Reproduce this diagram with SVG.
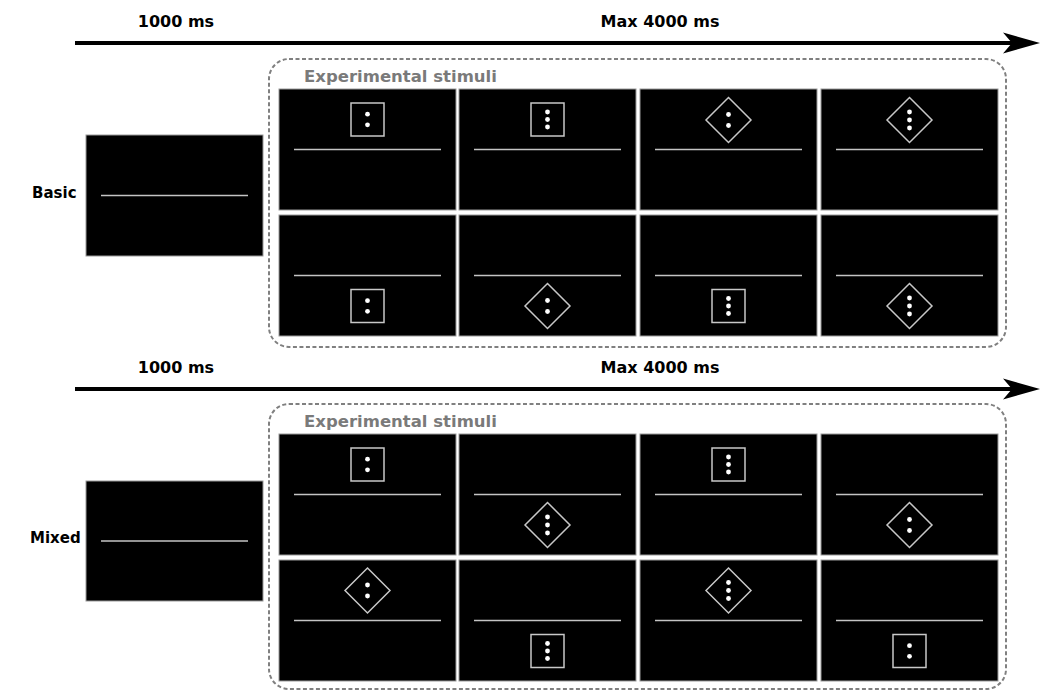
<svg xmlns="http://www.w3.org/2000/svg" xmlns:xlink="http://www.w3.org/1999/xlink" width="1043" height="691" viewBox="0 0 1043 691">
<style>
.lbl{font-family:"DejaVu Sans",Verdana,sans-serif;font-weight:bold;fill:#000;}
.time{font-size:16px;text-anchor:middle;}
.side{font-size:15px;}
.grp{font-size:16.5px;fill:#7a7a7a;}
.box{fill:none;stroke:#808080;stroke-width:2;stroke-dasharray:4 2.5;}
.scr{fill:#000;stroke:#9a9a9a;stroke-width:1;}
.ln{stroke:#c4c4c4;stroke-width:1.6;}
.shp{fill:none;stroke:#c8c8c8;stroke-width:1.5;}
.dot{fill:#fff;}
.axis{stroke:#000;stroke-width:4;}
</style>
<defs>
<g id="sq2"><rect class="shp" x="-16.5" y="-16.5" width="33" height="33"/><circle class="dot" cx="0" cy="-5.3" r="2.4"/><circle class="dot" cx="0" cy="5.3" r="2.4"/></g>
<g id="sq3"><rect class="shp" x="-16.5" y="-16.5" width="33" height="33"/><circle class="dot" cx="0" cy="-7.5" r="2.4"/><circle class="dot" cx="0" cy="0" r="2.4"/><circle class="dot" cx="0" cy="7.5" r="2.4"/></g>
<g id="di2"><polygon class="shp" points="0,-22.5 22.5,0 0,22.5 -22.5,0"/><circle class="dot" cx="0" cy="-5.5" r="2.4"/><circle class="dot" cx="0" cy="5.5" r="2.4"/></g>
<g id="di3"><polygon class="shp" points="0,-22.5 22.5,0 0,22.5 -22.5,0"/><circle class="dot" cx="0" cy="-8" r="2.4"/><circle class="dot" cx="0" cy="0" r="2.4"/><circle class="dot" cx="0" cy="8" r="2.4"/></g>
<g id="panel"><rect class="scr" x="0" y="0" width="177" height="121"/><line class="ln" x1="15" y1="60.5" x2="162" y2="60.5"/></g>
<path id="head" d="M0,0 L-37,-10.5 L-28,0 L-37,10.5 Z" fill="#000"/>
</defs>

<g id="connectors">
<line class="axis" x1="75" y1="43" x2="1012" y2="43"/>
<use xlink:href="#head" x="1040" y="43"/>
<line class="axis" x1="75" y1="389" x2="1012" y2="389"/>
<use xlink:href="#head" x="1040" y="389"/>
</g>

<g id="basic">
<text class="lbl time" x="176" y="27">1000 ms</text>
<text class="lbl time" x="660" y="27">Max 4000 ms</text>
<text class="lbl side" x="32" y="198">Basic</text>
<g id="basic-fixation">
<rect class="scr" x="86" y="135" width="177" height="121"/>
<line class="ln" x1="101" y1="195.5" x2="248" y2="195.5"/>
</g>
<g id="basic-stimuli">
<rect class="box" x="269" y="59" width="737" height="288" rx="20" ry="20"/>
<text class="lbl grp" x="304" y="82">Experimental stimuli</text>
<use xlink:href="#panel" x="279" y="89"/>
<use xlink:href="#panel" x="459" y="89"/>
<use xlink:href="#panel" x="640" y="89"/>
<use xlink:href="#panel" x="821" y="89"/>
<use xlink:href="#panel" x="279" y="215"/>
<use xlink:href="#panel" x="459" y="215"/>
<use xlink:href="#panel" x="640" y="215"/>
<use xlink:href="#panel" x="821" y="215"/>
<use xlink:href="#sq2" x="367.5" y="119.5"/>
<use xlink:href="#sq3" x="547.5" y="119.5"/>
<use xlink:href="#di2" x="728.5" y="120"/>
<use xlink:href="#di3" x="909.5" y="120"/>
<use xlink:href="#sq2" x="367.5" y="306"/>
<use xlink:href="#di2" x="547.5" y="306"/>
<use xlink:href="#sq3" x="728.5" y="306"/>
<use xlink:href="#di3" x="909.5" y="306"/>
</g>
</g>

<g id="mixed">
<text class="lbl time" x="176" y="373">1000 ms</text>
<text class="lbl time" x="660" y="373">Max 4000 ms</text>
<text class="lbl side" x="30" y="543">Mixed</text>
<g id="mixed-fixation">
<rect class="scr" x="86" y="481" width="177" height="120"/>
<line class="ln" x1="101" y1="541" x2="248" y2="541"/>
</g>
<g id="mixed-stimuli">
<rect class="box" x="269" y="404" width="737" height="285" rx="20" ry="20"/>
<text class="lbl grp" x="304" y="427">Experimental stimuli</text>
<use xlink:href="#panel" x="279" y="434"/>
<use xlink:href="#panel" x="459" y="434"/>
<use xlink:href="#panel" x="640" y="434"/>
<use xlink:href="#panel" x="821" y="434"/>
<use xlink:href="#panel" x="279" y="560"/>
<use xlink:href="#panel" x="459" y="560"/>
<use xlink:href="#panel" x="640" y="560"/>
<use xlink:href="#panel" x="821" y="560"/>
<use xlink:href="#sq2" x="367.5" y="464.5"/>
<use xlink:href="#di3" x="547.5" y="525"/>
<use xlink:href="#sq3" x="728.5" y="464.5"/>
<use xlink:href="#di2" x="909.5" y="525"/>
<use xlink:href="#di2" x="367.5" y="590.5"/>
<use xlink:href="#sq3" x="547.5" y="651"/>
<use xlink:href="#di3" x="728.5" y="590.5"/>
<use xlink:href="#sq2" x="909.5" y="651"/>
</g>
</g>
</svg>
